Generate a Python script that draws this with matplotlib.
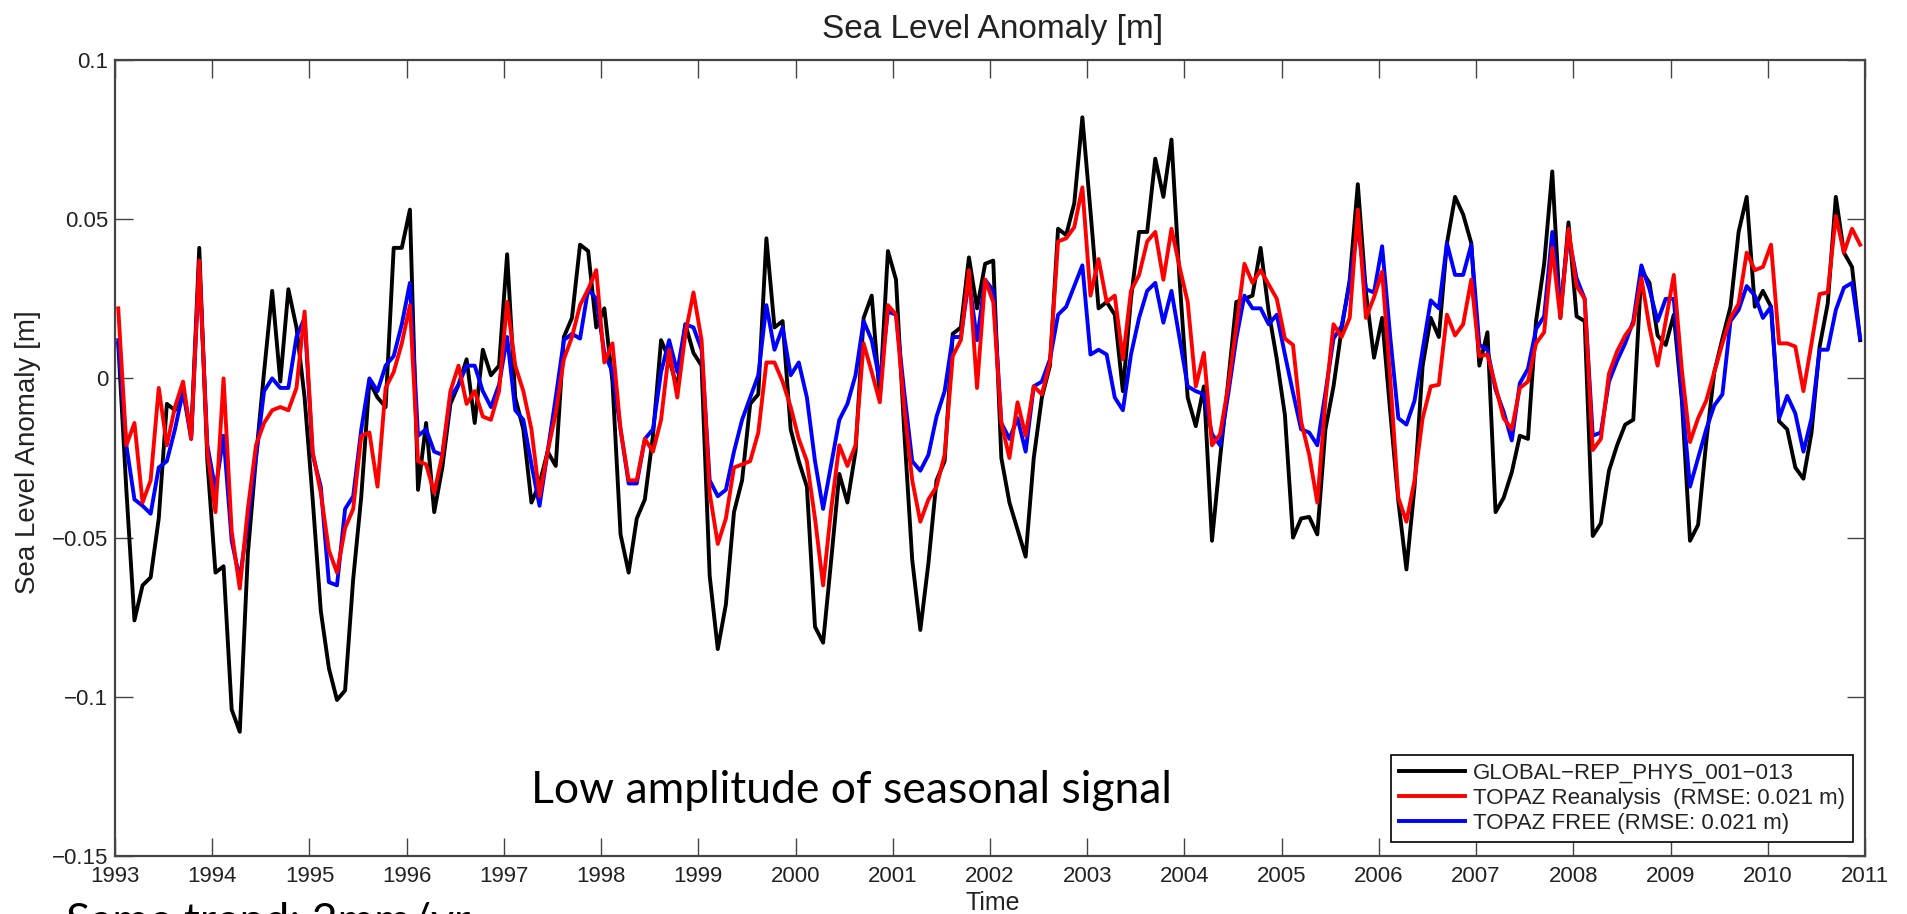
import numpy as np
import matplotlib
matplotlib.use("Agg")
import matplotlib.pyplot as plt

# ---- data (monthly, Jan 1993 - Dec 2010) ----
global_rep = [
 0.011,-0.035,-0.076,-0.065,-0.0625,-0.044,-0.008,-0.010,-0.003,-0.018,0.041,-0.026,
 -0.061,-0.059,-0.104,-0.111,-0.055,-0.025,0.002,0.0275,-0.001,0.028,0.016,-0.006,
 -0.038,-0.073,-0.091,-0.101,-0.098,-0.063,-0.037,-0.001,-0.006,-0.009,0.041,0.041,
 0.053,-0.035,-0.014,-0.042,-0.028,-0.008,-0.002,0.006,-0.014,0.009,0.001,0.004,
 0.039,-0.006,-0.016,-0.039,-0.033,-0.023,-0.0275,0.013,0.019,0.042,0.040,0.016,
 0.022,-0.001,-0.049,-0.061,-0.044,-0.038,-0.018,0.012,0.006,-0.003,0.017,0.008,
 0.004,-0.062,-0.085,-0.071,-0.042,-0.032,-0.008,-0.005,0.044,0.016,0.018,-0.016,
 -0.026,-0.034,-0.078,-0.083,-0.057,-0.030,-0.039,-0.023,0.019,0.026,-0.006,0.040,
 0.031,-0.016,-0.057,-0.079,-0.058,-0.032,-0.026,0.014,0.016,0.038,0.022,0.036,
 0.037,-0.025,-0.039,-0.0475,-0.056,-0.025,-0.006,0.004,0.047,0.045,0.055,0.082,
 0.0525,0.022,0.024,0.020,-0.004,0.025,0.046,0.046,0.069,0.057,0.075,0.031,
 -0.006,-0.015,-0.0025,-0.051,-0.025,-0.001,0.024,0.025,0.026,0.041,0.021,0.006,
 -0.0115,-0.050,-0.044,-0.0435,-0.049,-0.016,-0.0025,0.0155,0.031,0.061,0.027,0.0065,
 0.019,-0.0105,-0.0385,-0.060,-0.034,0.004,0.019,0.013,0.0425,0.057,0.0515,0.0425,
 0.004,0.0145,-0.042,-0.0375,-0.0295,-0.018,-0.019,0.018,0.036,0.065,0.019,0.049,
 0.0195,0.018,-0.0495,-0.0455,-0.029,-0.021,-0.0145,-0.013,0.034,0.030,0.0135,0.0105,
 0.020,-0.007,-0.051,-0.046,-0.020,0.002,0.0125,0.0225,0.046,0.057,0.0225,0.0275,
 0.0225,-0.0135,-0.016,-0.028,-0.0315,-0.017,0.010,0.0235,0.057,0.0395,0.035,0.012,
]
topaz_reanalysis = [
 0.022,-0.021,-0.014,-0.039,-0.032,-0.003,-0.021,-0.009,-0.001,-0.019,0.037,-0.023,
 -0.042,0.0,-0.048,-0.066,-0.041,-0.021,-0.014,-0.010,-0.009,-0.010,-0.003,0.021,
 -0.023,-0.036,-0.054,-0.061,-0.047,-0.041,-0.018,-0.017,-0.034,-0.003,0.002,0.011,
 0.023,-0.026,-0.027,-0.036,-0.024,-0.004,0.004,-0.008,-0.004,-0.012,-0.013,-0.004,
 0.024,0.004,-0.004,-0.016,-0.037,-0.023,-0.011,0.006,0.013,0.023,0.028,0.034,
 0.005,0.011,-0.016,-0.032,-0.032,-0.019,-0.023,-0.013,0.009,-0.006,0.014,0.027,
 0.012,-0.036,-0.052,-0.044,-0.028,-0.027,-0.026,-0.017,0.005,0.005,-0.001,-0.009,
 -0.019,-0.026,-0.044,-0.065,-0.041,-0.021,-0.0275,-0.021,0.011,0.002,-0.0075,0.023,
 0.020,-0.009,-0.032,-0.045,-0.038,-0.034,-0.024,0.007,0.012,0.034,-0.003,0.031,
 0.024,-0.014,-0.025,-0.0075,-0.018,-0.0025,-0.005,0.005,0.043,0.044,0.0475,0.060,
 0.026,0.0375,0.024,0.026,0.006,0.0275,0.0325,0.043,0.046,0.031,0.047,0.035,
 0.024,-0.0025,0.008,-0.021,-0.0175,-0.0025,0.016,0.036,0.030,0.034,0.0295,0.025,
 0.0125,0.0105,-0.0135,-0.024,-0.039,-0.007,0.017,0.013,0.019,0.053,0.019,0.0255,
 0.0335,0.0,-0.0375,-0.045,-0.032,-0.0125,-0.0025,-0.002,0.020,0.0135,0.017,0.031,
 0.007,0.0075,-0.0025,-0.0125,-0.016,-0.003,-0.001,0.011,0.0145,0.041,0.019,0.047,
 0.029,0.025,-0.0225,-0.019,0.0015,0.0085,0.0135,0.017,0.0315,0.016,0.004,0.018,
 0.0325,0.0025,-0.020,-0.0125,-0.007,0.002,0.011,0.019,0.0235,0.0395,0.034,0.035,
 0.042,0.011,0.011,0.010,-0.004,0.011,0.0265,0.027,0.051,0.0395,0.047,0.042,
]
topaz_free = [
 0.012,-0.021,-0.038,-0.040,-0.0425,-0.028,-0.026,-0.016,-0.004,-0.019,0.036,-0.021,
 -0.035,-0.018,-0.051,-0.063,-0.045,-0.025,-0.004,0.0,-0.003,-0.003,0.013,0.019,
 -0.024,-0.034,-0.064,-0.065,-0.041,-0.037,-0.016,0.0,-0.004,0.004,0.007,0.017,
 0.030,-0.018,-0.016,-0.023,-0.024,-0.006,-0.002,0.004,0.004,-0.004,-0.009,-0.002,
 0.013,-0.010,-0.013,-0.027,-0.040,-0.023,-0.006,0.012,0.014,0.0125,0.028,0.025,
 0.008,0.002,-0.016,-0.033,-0.033,-0.019,-0.016,0.002,0.012,0.002,0.017,0.016,
 0.009,-0.032,-0.037,-0.035,-0.023,-0.013,-0.006,0.001,0.023,0.009,0.016,0.001,
 0.005,-0.006,-0.026,-0.041,-0.027,-0.013,-0.008,0.001,0.018,0.012,-0.001,0.021,
 0.020,-0.004,-0.026,-0.029,-0.024,-0.012,-0.004,0.013,0.013,0.031,0.012,0.031,
 0.0275,-0.014,-0.019,-0.0125,-0.023,-0.0025,-0.001,0.006,0.020,0.0225,0.029,0.0355,
 0.0075,0.009,0.0075,-0.006,-0.010,0.0075,0.019,0.0275,0.030,0.0175,0.0275,0.0125,
 -0.0025,-0.004,-0.005,-0.0175,-0.021,-0.005,0.0125,0.026,0.022,0.022,0.017,0.020,
 0.0075,-0.0045,-0.016,-0.017,-0.021,-0.0045,0.0125,0.0165,0.030,0.048,0.028,0.027,
 0.0415,0.013,-0.0125,-0.0145,-0.007,0.009,0.0245,0.022,0.0425,0.0325,0.0325,0.042,
 0.0105,0.009,-0.0035,-0.0105,-0.0195,-0.0015,0.003,0.0155,0.0195,0.046,0.022,0.045,
 0.0315,0.025,-0.018,-0.017,-0.001,0.0055,0.011,0.018,0.0355,0.028,0.018,0.025,
 0.025,-0.0055,-0.034,-0.025,-0.016,-0.0085,-0.005,0.018,0.0215,0.029,0.026,0.019,
 0.0225,-0.0125,-0.0055,-0.011,-0.023,-0.0125,0.009,0.009,0.0215,0.0285,0.030,0.0125,
]
start_year = 1993
year_ticks = list(range(1993, 2012))
y_ticks = [-0.15, -0.1, -0.05, 0, 0.05, 0.1]
y_tick_labels = ["\u22120.15", "\u22120.1", "\u22120.05", "0", "0.05", "0.1"]
series_labels = ["GLOBAL\u2212REP_PHYS_001\u2212013",
                 "TOPAZ Reanalysis  (RMSE: 0.021 m)",
                 "TOPAZ FREE (RMSE: 0.021 m)"]

n = len(global_rep)
t = start_year + (np.arange(n) + 0.4) / 12.0

W, H = 1907, 914
fig = plt.figure(figsize=(W / 100, H / 100), dpi=100)
plt.rcParams['font.family'] = ['Liberation Sans', 'DejaVu Sans']

ax = fig.add_axes([115 / W, 1 - 856 / H, (1865 - 115) / W, (856 - 60) / H])
lw = 2.8
l1, = ax.plot(t, global_rep, color='black', lw=lw, label=series_labels[0], zorder=3)
l3, = ax.plot(t, topaz_free, color='#0000ff', lw=lw, label=series_labels[2], zorder=4)
l2, = ax.plot(t, topaz_reanalysis, color='#ff0000', lw=lw, label=series_labels[1], zorder=5)

ax.set_xlim(1993, 2011)
ax.set_ylim(-0.15, 0.1)
ax.set_xticks(year_ticks)
ax.set_xticklabels([str(y) for y in year_ticks])
ax.set_yticks(y_ticks)
ax.set_yticklabels(y_tick_labels)
ax.tick_params(direction='in', length=13, width=1.0, color='#444444',
               top=True, right=True, labelsize=16, labelcolor='#222222')
ax.tick_params(axis='x', pad=7)
ax.tick_params(axis='y', pad=5)
for s in ax.spines.values():
    s.set_color('#444444')
    s.set_linewidth(1.6)

leg = ax.legend(handles=[l1, l2, l3], loc='lower right',
                bbox_to_anchor=(1853 / W, 1 - 842 / H), bbox_transform=fig.transFigure,
                borderaxespad=0, fontsize=16, handlelength=3.0, handletextpad=0.35,
                labelspacing=0.2, borderpad=0.35, fancybox=False, framealpha=1,
                edgecolor='black')
leg.get_frame().set_linewidth(1.2)
for txt in leg.get_texts():
    txt.set_color('#222222')

fig.text(993 / W, 1 - 38 / H, "Sea Level Anomaly [m]", ha='center', va='baseline',
         fontsize=24, color='#222222')
fig.text(28 / W, 1 - 452 / H, "Sea Level Anomaly [m]", ha='center', va='center',
         rotation=90, fontsize=20, color='#222222')
fig.text(993 / W, 1 - 910 / H, "Time", ha='center', va='baseline',
         fontsize=18, color='#222222')

fig.text(851 / W, 1 - 803 / H, "Low amplitude of seasonal signal", ha='center',
         va='baseline', fontsize=32, family=['Lato', 'DejaVu Sans'], color='black')
fig.text(66 / W, 1 - 902 / H, "Same trend: 2mm/yr", ha='left', va='top',
         fontsize=32, family=['Lato', 'DejaVu Sans'], color='black')

fig.savefig("out.png", dpi=100)
